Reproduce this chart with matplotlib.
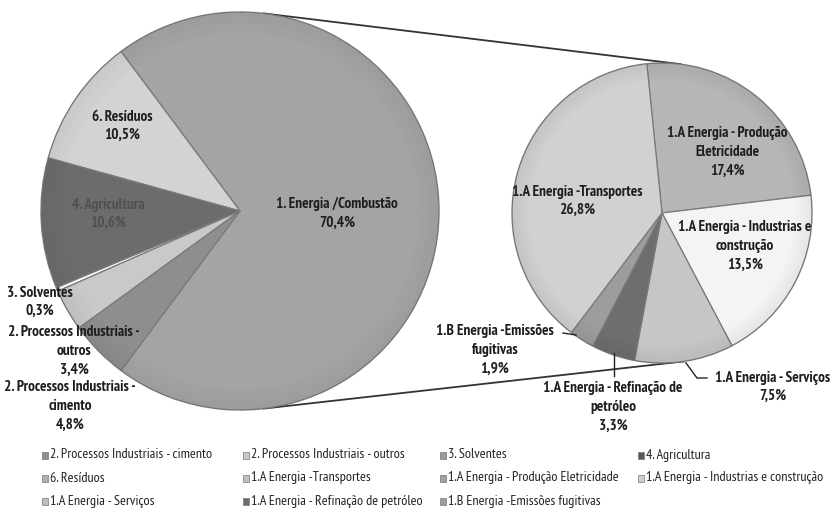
import numpy as np
import matplotlib.pyplot as plt
from matplotlib.patches import Rectangle

W, H = 832, 514

# first pie: total emissions by sector (%)
main_names = ["1. Energia /Combustão", "6. Resíduos", "4. Agricultura", "3. Solventes",
              "2. Processos Industriais -\noutros", "2. Processos Industriais -\ncimento"]
main_values = [70.4, 10.5, 10.6, 0.3, 3.4, 4.8]
main_colors = ["#a4a4a4", "#d3d3d3", "#6c6c6c", "#ffffff", "#c9c9c9", "#8e8e8e"]

# second pie: breakdown of the energy slice (% of total)
sub_names = ["1.A Energia - Produção\nEletricidade", "1.A Energia - Industrias e\nconstrução",
             "1.A Energia - Serviços", "1.A Energia - Refinação de\npetróleo",
             "1.B Energia -Emissões\nfugitivas", "1.A Energia -Transportes"]
sub_values = [17.4, 13.5, 7.5, 3.3, 1.9, 26.8]
sub_colors = ["#b6b6b6", "#f4f4f4", "#c6c6c6", "#6e6e6e", "#9d9d9d", "#d1d1d1"]

legend_labels = ["2. Processos Industriais - cimento", "2. Processos Industriais - outros",
                 "3. Solventes", "4. Agricultura", "6. Resíduos", "1.A Energia -Transportes",
                 "1.A Energia - Produção Eletricidade", "1.A Energia - Industrias e construção",
                 "1.A Energia - Serviços", "1.A Energia - Refinação de petróleo",
                 "1.B Energia -Emissões fugitivas"]
legend_colors = ["#8e8e8e", "#c9c9c9", "#9a9a9a", "#5a5a5a", "#b0b0b0", "#c0c0c0",
                 "#a0a0a0", "#cfcfcf", "#bdbdbd", "#6e6e6e", "#9d9d9d"]

LBL = ["PT Sans Narrow", "DejaVu Sans"]


def pct(v):
    return f"{v:.1f}".replace(".", ",") + "%"


fig = plt.figure(figsize=(W / 100, H / 100), dpi=100)
ax = fig.add_axes([0, 0, 1, 1])

c1, r1 = (240, H - 211), 199
c2, r2 = (662, H - 213), 150

# connector lines between the two pies
for a1, a2 in ((83.2, 83.0), (-83.2, -81.5)):
    t1, t2 = np.radians(a1), np.radians(a2)
    ax.plot([c1[0] + r1 * np.cos(t1), c2[0] + r2 * np.cos(t2)],
            [c1[1] + r1 * np.sin(t1), c2[1] + r2 * np.sin(t2)],
            color="#333333", lw=1.3, zorder=1)

ax.pie(main_values, colors=main_colors, startangle=-main_values[0] / 100 * 180,
       center=c1, radius=r1, frame=True,
       wedgeprops=dict(edgecolor="#7a7a7a", linewidth=0.9))
ax.pie(sub_values, colors=sub_colors, startangle=95.8, counterclock=False,
       center=c2, radius=r2, frame=True,
       wedgeprops=dict(edgecolor="#7a7a7a", linewidth=0.9))

# soft darkening towards the rim
for c, r in ((c1, r1), (c2, r2)):
    for k in range(10):
        ax.add_patch(plt.Circle(c, r * (1 - 0.012 * k), fill=False,
                                lw=1.6, color="black", alpha=0.05 * (10 - k) / 10))

ax.set_xlim(0, W)
ax.set_ylim(0, H)
ax.set_aspect("equal")
ax.axis("off")

txt = dict(family=LBL, fontweight="bold", fontsize=11, ha="center", va="center",
           linespacing=1.42, color="#1e1e1e")

# label positions in pixels from the top-left
main_pos = [(337, 213), (122, 126), (108, 214), (40, 302), (74, 351), (70, 406)]
for name, v, (x, y) in zip(main_names, main_values, main_pos):
    kw = dict(txt)
    if name.startswith("4."):
        kw["color"] = "#505050"
    ax.text(x, H - y, name + "\n" + pct(v), **kw)

sub_pos = [(727, 152), (745, 246), (773, 387), (613, 407), (495, 350), (577, 201)]
for name, v, (x, y) in zip(sub_names, sub_values, sub_pos):
    ax.text(x, H - y, name + "\n" + pct(v), **txt)

# leader lines
ax.plot([563, 576], [H - 333, H - 335], color="#222222", lw=1)
ax.plot([614, 614], [H - 353, H - 376], color="#222222", lw=1)
ax.plot([686, 697, 707], [H - 363, H - 378, H - 378], color="#222222", lw=1)

# legend, row by row
col_x = [45, 246, 443, 641]
row_y = [455, 478, 501]
for i, (lab, col) in enumerate(zip(legend_labels, legend_colors)):
    x, y = col_x[i % 4], row_y[i // 4]
    ax.add_patch(Rectangle((x - 3, H - y - 3.5), 6, 7, facecolor=col,
                           edgecolor="#777777", lw=0.5))
    ax.text(x + 5, H - y, lab, family=LBL, fontsize=10.2, ha="left", va="center",
            color="#222222")

fig.savefig("out.png", dpi=100)
